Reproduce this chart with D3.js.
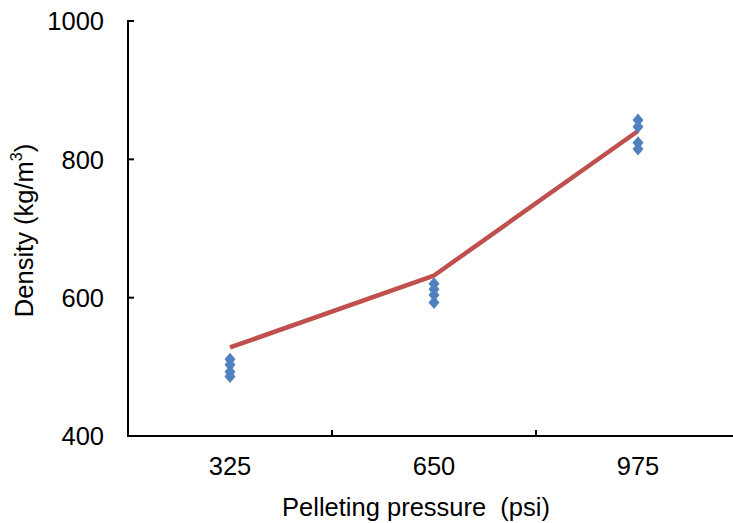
<!DOCTYPE html>
<html>
<head>
<meta charset="utf-8">
<script src="https://cdn.jsdelivr.net/npm/d3@7"></script>
<style>
  html, body { margin: 0; padding: 0; background: #fff; }
  svg { display: block; }
  text { font-family: "Liberation Sans", Arial, sans-serif; fill: #000; }
</style>
</head>
<body>
<div id="chart"></div>
<script>
// ---- data ----
const categories = ["325", "650", "975"];
const meanValues = [528, 632, 841];
const obs325 = [511, 503, 493, 486];
const obs650 = [620, 612, 604, 593];
const obs975 = [857, 847, 824, 815];
const yTicks = [400, 600, 800, 1000];
const xTitle = "Pelleting pressure  (psi)";
const yTitle = "Density (kg/m";

// ---- layout ----
const W = 733, H = 523;
const svg = d3.select("#chart").append("svg").attr("width", W).attr("height", H);

const x = d3.scaleBand().domain(categories).range([128, 740]).padding(0);
const y = d3.scaleLinear().domain([400, 1000]).range([436, 21]);
const cx = c => x(c) + x.bandwidth() / 2;
const FS = 25.5;

// axes
const axisColor = "#000";
svg.append("line").attr("x1", x.range()[0]).attr("x2", x.range()[1])
  .attr("y1", y(400)).attr("y2", y(400))
  .attr("stroke", axisColor).attr("stroke-width", 2);
svg.append("line").attr("x1", x.range()[0]).attr("x2", x.range()[0])
  .attr("y1", y(400) + 1).attr("y2", y(1000) - 1)
  .attr("stroke", axisColor).attr("stroke-width", 2);

// y ticks (inward) and labels
svg.selectAll(".ytick").data(yTicks).enter().append("line")
  .attr("x1", x.range()[0]).attr("x2", x.range()[0] + 6)
  .attr("y1", d => y(d)).attr("y2", d => y(d))
  .attr("stroke", axisColor).attr("stroke-width", 2);
svg.selectAll(".ylab").data(yTicks).enter().append("text")
  .attr("x", 104).attr("y", d => y(d))
  .attr("dy", "0.36em").attr("text-anchor", "end")
  .attr("font-size", FS).text(d => d);

// x ticks at category boundaries (inward)
svg.selectAll(".xtick").data(categories.slice(1)).enter().append("line")
  .attr("x1", d => x(d)).attr("x2", d => x(d))
  .attr("y1", y(400)).attr("y2", y(400) - 6)
  .attr("stroke", axisColor).attr("stroke-width", 2);
svg.selectAll(".xlab").data(categories).enter().append("text")
  .attr("x", d => cx(d)).attr("y", 475)
  .attr("text-anchor", "middle").attr("font-size", FS).text(d => d);

// titles
svg.append("text").attr("x", 416).attr("y", 516)
  .attr("text-anchor", "middle").attr("font-size", FS)
  .attr("xml:space", "preserve").style("white-space", "pre").text(xTitle);

const yt = svg.append("text")
  .attr("transform", `translate(33, ${(y(400) + y(1000)) / 2 + 2}) rotate(-90)`)
  .attr("text-anchor", "middle").attr("font-size", FS);
yt.append("tspan").text(yTitle);
yt.append("tspan").attr("font-size", 16).attr("dy", "-0.7em").text("3");
yt.append("tspan").attr("dy", "0.45em").text(")");

// line
const lineData = categories.map((c, i) => ({c, v: meanValues[i]}));
svg.append("path").datum(lineData)
  .attr("fill", "none").attr("stroke", "#C0504D").attr("stroke-width", 4.5)
  .attr("stroke-linejoin", "round")
  .attr("d", d3.line().x(d => cx(d.c)).y(d => y(d.v)));

// points
const obs = [obs325, obs650, obs975];
const pts = [];
categories.forEach((c, i) => obs[i].forEach(v => pts.push({c, v})));
const diamond = "M0,-6.5L5.5,0L0,6.5L-5.5,0Z";
svg.selectAll(".pt").data(pts).enter().append("path")
  .attr("d", diamond)
  .attr("transform", d => `translate(${cx(d.c)},${y(d.v)})`)
  .attr("fill", "#4F81BD");
</script>
</body>
</html>
